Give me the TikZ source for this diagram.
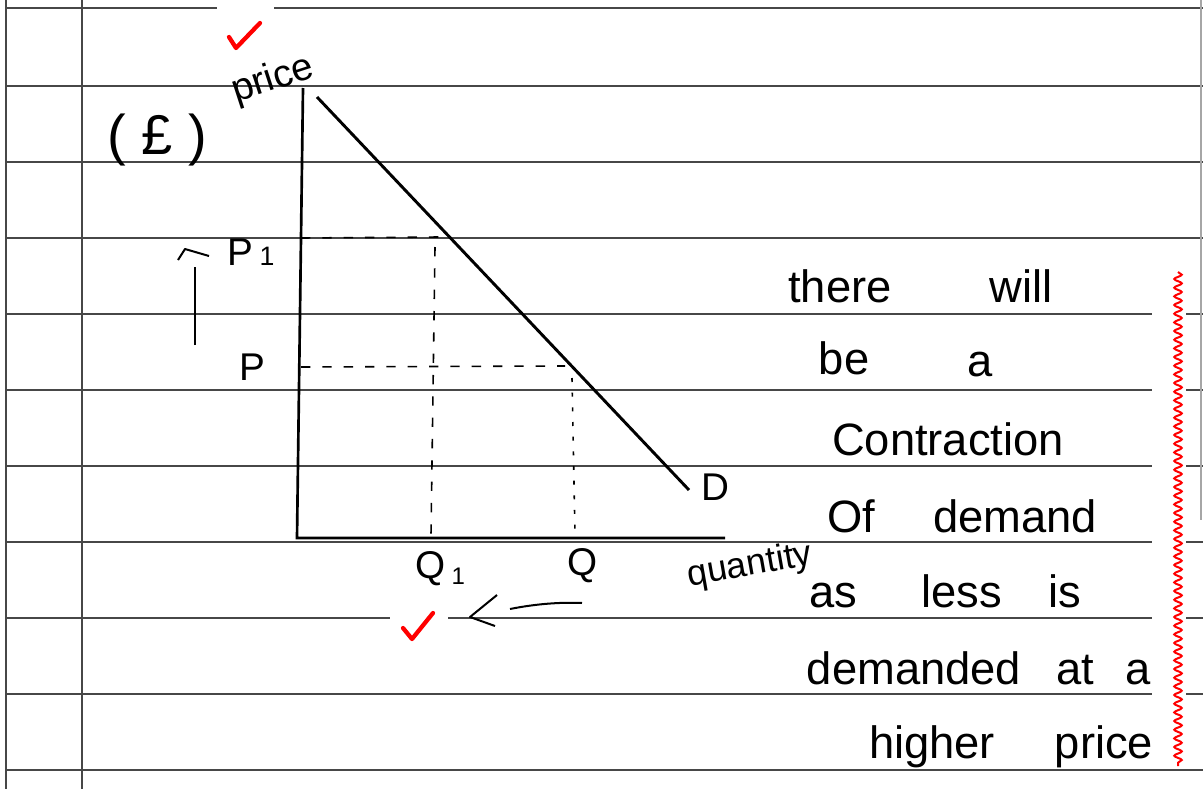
\documentclass[tikz,border=0pt]{standalone}
\usepackage{fontspec}
\setmainfont{Liberation Sans}
\usetikzlibrary{arrows.meta,decorations.pathmorphing}

\tikzset{every picture/.style={line width=0.75pt}}

\begin{document}
\begin{tikzpicture}[
                x=0.75pt,
                y=0.75pt,
                yscale=-1,
                xscale=1,
                ruled/.style={draw=black!72,line width=1.4pt},
                words/.style={anchor=base,inner sep=0.75pt,font=\fontsize{34}{40}\selectfont},
                axislabel/.style={inner sep=0.75pt,font=\fontsize{29}{34}\selectfont},
                guide/.style={dash pattern=on 7pt off 9pt,line width=1.2pt},
                redtick/.style={draw=red,line width=3.2pt,line cap=round,line join=round},
                line width=0.75pt
            ]
                \useasboundingbox (0,0) rectangle (1203,789);
                \fill[white] (0,0) rectangle (1203,789);

                % ruled paper
                \foreach \y in {8,86,162,238,314,390,466,542,618,694,770}
                    \draw[ruled] (6,\y) -- (1203,\y);
                \draw[ruled] (6,0) -- (6,789);
                \draw[ruled] (82,0) -- (82,789);
                \draw[draw=black!35,line width=1pt] (1201,0) -- (1201,520);
                \fill[white] (217,0) rectangle (274,30);
                \fill[white] (390,600) rectangle (448,642);
                \fill[white] (1152,262) rectangle (1186,764);

                % axes and demand curve
                \coordinate (ytop) at (303,88);
                \coordinate (orig) at (297,538);
                \coordinate (xend) at (725,538);
                \coordinate (dtop) at (317,97);
                \coordinate (dend) at (689,490);
                \draw[line width=2pt] (ytop) -- (orig) -- (xend);
                \draw[line width=2.2pt] (dtop) -- (dend);

                % guide lines
                \draw[guide] (301,238) -- (440,237);
                \draw[guide] (435,247) -- (431,535);
                \draw[guide] (301,367) -- (565,366);
                \draw[guide,dash pattern=on 3pt off 8pt] (572,378) -- (575,535);

                % labels on the graph
                \node[axislabel,rotate=18] (price) at (273,80) {price};
                \node[inner sep=0.75pt,font=\fontsize{42}{48}\selectfont] (unit) at (157,140) {( £ )};
                \node[axislabel,anchor=base] (p1) at (251,265) {P\,{\fontsize{20}{24}\selectfont 1}};
                \node[axislabel] (p) at (252,367) {P};
                \node[axislabel,anchor=base] (q1) at (440,578) {Q\,\raisebox{-5pt}{\fontsize{18}{22}\selectfont 1}};
                \node[axislabel] (q) at (583,566) {Q};
                \node[axislabel] (d) at (715,487) {D};
                \node[axislabel,rotate=10,font=\fontsize{27}{32}\selectfont] (qty) at (750,566) {quantity};

                % arrows
                \draw[line width=1.5pt] (195,345) -- (195,267);
                \draw[line width=1.5pt,line join=round] (178,260) -- (185,249) -- (209,256);
                \draw[line width=1.5pt] (510,609) .. controls (535,604) and (560,602) .. (582,603);
                \draw[line width=1.5pt,line join=round] (497,595) -- (470,617) -- (495,626);

                % teacher marks
                \draw[redtick] (229,37) -- (236,48) -- (260,23);
                \draw[redtick] (403,628) -- (412,639) -- (433,613);
                \draw[red,line width=1.5pt,decorate,decoration={snake,amplitude=2.8pt,segment length=6.5pt}] (1178,272) -- (1178,766);

                % explanation
                \node[words] (w1) at (840,302) {there};
                \node[words] (w2) at (1021,302) {will};
                \node[words] (w3) at (844,374) {be};
                \node[words] (w4) at (980,376) {a};
                \node[words] (w5) at (948,455) {Contraction};
                \node[words] (w6) at (851,532) {Of};
                \node[words] (w7) at (1015,532) {demand};
                \node[words] (w8) at (833,607) {as};
                \node[words] (w9) at (962,607) {less};
                \node[words] (w10) at (1065,607) {is};
                \node[words] (w11) at (914,684) {demanded};
                \node[words] (w12) at (1075,684) {at};
                \node[words] (w13) at (1138,684) {a};
                \node[words] (w14) at (932,758) {higher};
                \node[words] (w15) at (1104,758) {price};
            \end{tikzpicture}
\end{document}
